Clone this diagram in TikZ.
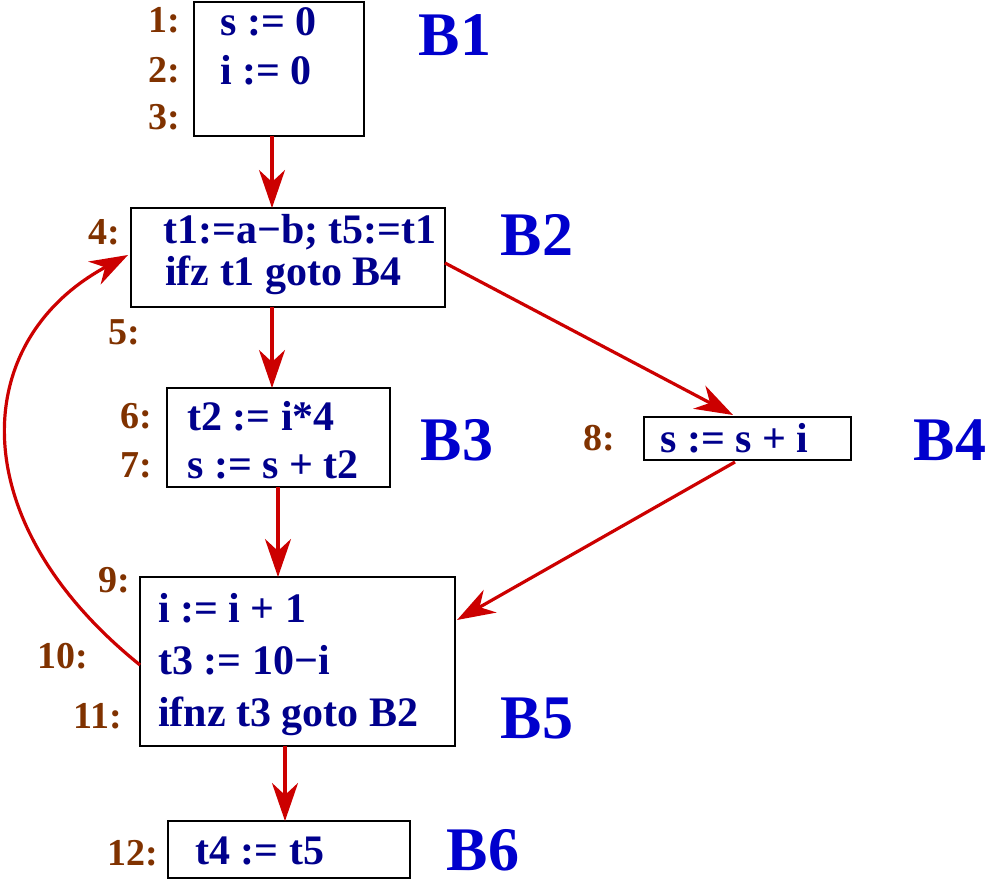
\documentclass[tikz,border=0pt]{standalone}
\usepackage{fontspec}
\setmainfont{Liberation Serif}
\usetikzlibrary{arrows.meta}
\definecolor{codec}{RGB}{0,0,140}
\definecolor{labc}{RGB}{0,0,205}
\definecolor{numc}{RGB}{128,50,0}
\definecolor{arrc}{RGB}{204,0,0}
\tikzset{
 blk/.style={draw,line width=1.3pt},
 code/.style={anchor=west,inner sep=0pt,text=codec,font=\fontsize{42}{42}\selectfont\bfseries},
 num/.style={anchor=east,inner sep=0pt,text=numc,font=\fontsize{38}{38}\selectfont\bfseries},
 blab/.style={inner sep=0pt,text=labc,font=\fontsize{62}{62}\selectfont\bfseries},
 flow/.style={draw=arrc,line width=3.2pt,-{Stealth[length=38pt,width=26pt,inset=12pt]}}
}
\begin{document}
\begin{tikzpicture}[x=1pt,y=-1pt]
\useasboundingbox (0,0) rectangle (988,885);
\draw[blk] (194,2) rectangle (364,136);
\draw[blk] (131,208) rectangle (445,307);
\draw[blk] (167,388) rectangle (390,487);
\draw[blk] (644,417) rectangle (851,460);
\draw[blk] (140,577) rectangle (455,746);
\draw[blk] (168,821) rectangle (410,878);
\coordinate (b1s) at (272,136); \coordinate (b2n) at (272,208);
\coordinate (b2s) at (272,307); \coordinate (b3n) at (272,388);
\coordinate (b2e) at (445,263); \coordinate (b4n) at (733,415);
\coordinate (b4s) at (735,462); \coordinate (b5e) at (457,620);
\coordinate (b3s) at (278,487); \coordinate (b5n) at (278,577);
\coordinate (b5s) at (285,746); \coordinate (b6n) at (285,821);
\coordinate (b5w) at (140,665); \coordinate (b2w) at (128,255);
\path[flow] (b1s) -- (b2n);
\path[flow] (b2s) -- (b3n);
\path[flow] (b2e) -- (b4n);
\path[flow] (b4s) -- (b5e);
\path[flow] (b3s) -- (b5n);
\path[flow] (b5s) -- (b6n);
\path[flow] (b5w) .. controls (-40,520) and (-30,340) .. (b2w);
\node[num] (n1) at (180,20) {1:};
\node[num] (n2) at (180,70) {2:};
\node[num] (n3) at (180,117) {3:};
\node[code] (c1) at (220,22) {s := 0};
\node[code] (c2) at (220,70) {i := 0};
\node[blab] (l1) at (455,35) {B1};
\node[num] (n4) at (120,232) {4:};
\node[code] (c4) at (163,232) {t1:=a−b; t5:=t1};
\node[code] (c5) at (165,275) {ifz t1 goto B4};
\node[num] (n5) at (140,332) {5:};
\node[blab] (l2) at (537,235) {B2};
\node[num] (n6) at (152,416) {6:};
\node[code] (c6) at (187,416) {t2 := i*4};
\node[num] (n7) at (152,465) {7:};
\node[code] (c7) at (187,465) {s := s + t2};
\node[blab] (l3) at (457,440) {B3};
\node[num] (n8) at (615,438) {8:};
\node[code] (c8) at (660,438) {s := s + i};
\node[blab] (l4) at (950,440) {B4};
\node[num] (n9) at (130,580) {9:};
\node[code] (c9) at (158,608) {i := i + 1};
\node[num] (n10) at (88,656) {10:};
\node[code] (c10) at (158,660) {t3 := 10−i};
\node[num] (n11) at (122,716) {11:};
\node[code] (c11) at (158,716) {ifnz t3 goto B2};
\node[blab] (l5) at (537,718) {B5};
\node[num] (n12) at (158,853) {12:};
\node[code] (c12) at (195,851) {t4 := t5};
\node[blab] (l6) at (483,850) {B6};
\end{tikzpicture}
\end{document}
